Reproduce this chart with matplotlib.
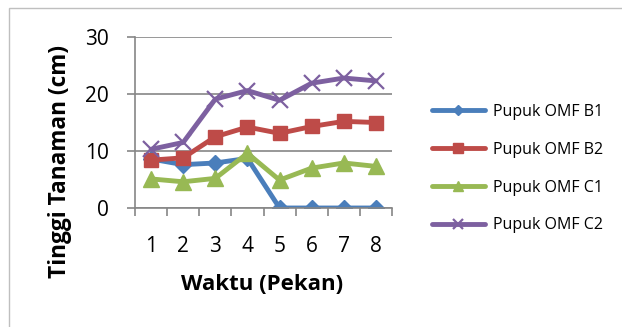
import matplotlib
matplotlib.use("Agg")
import matplotlib.pyplot as plt
from matplotlib.patches import Rectangle

plt.rcParams['font.family'] = ['Open Sans', 'DejaVu Sans']

weeks = [1, 2, 3, 4, 5, 6, 7, 8]
series_names = ["Pupuk OMF B1", "Pupuk OMF B2", "Pupuk OMF C1", "Pupuk OMF C2"]
b1 = [8.6, 7.6, 7.9, 8.7, 0, 0, 0, 0]
b2 = [8.4, 8.8, 12.5, 14.2, 13.1, 14.3, 15.2, 15.0]
c1 = [5.1, 4.6, 5.2, 9.6, 4.9, 7.0, 7.9, 7.3]
c2 = [10.3, 11.5, 19.1, 20.6, 18.9, 21.9, 22.8, 22.3]
y_ticks = [0, 10, 20, 30]

colors = ["#4A7EBB", "#BE4B48", "#98B954", "#7D60A0"]
markers = ["D", "s", "^", "x"]
msizes = [8, 10, 11, 11]

fig = plt.figure(figsize=(6.22, 3.27), dpi=100)
fig.patch.set_facecolor("white")
fig.patches.append(Rectangle((9 / 622, -0.1), 1.2, 1 - 8 / 327 + 0.1,
                             transform=fig.transFigure, fill=False,
                             edgecolor="#BFBFBF", linewidth=1.0))

ax = fig.add_axes([135 / 622, 1 - 208 / 327, 257 / 622, 171 / 327])

for vals, name, col, mk, ms in zip([b1, b2, c1, c2], series_names, colors, markers, msizes):
    kw = dict(color=col, linewidth=3.5, marker=mk, markersize=ms, label=name,
              solid_capstyle="round", solid_joinstyle="round")
    if mk == "x":
        kw["markeredgewidth"] = 1.6
    else:
        kw["markeredgecolor"] = col
    ax.plot(weeks, vals, **kw)

ax.set_xlim(0.5, 8.5)
ax.set_ylim(0, 30)
ax.set_yticks(y_ticks)
ax.set_xticks([w + 0.5 for w in [0] + weeks])
ax.set_xticklabels([])
ax.set_xticks(weeks, minor=True)
ax.set_xticklabels([str(w) for w in weeks], minor=True, fontsize=15)
ax.tick_params(axis="x", which="minor", length=0, pad=20)
ax.tick_params(axis="x", which="major", length=6, width=1.2, color="#868686", direction="out")
ax.tick_params(axis="y", length=6, width=1.2, color="#868686", labelsize=15, pad=13)

ax.grid(axis="y", color="#868686", linewidth=1.2)
ax.set_axisbelow(True)
for side in ["top", "right"]:
    ax.spines[side].set_visible(False)
for side in ["left", "bottom"]:
    ax.spines[side].set_color("#868686")
    ax.spines[side].set_linewidth(1.2)

# Axis titles placed in figure coordinates
fig.text(60 / 622, 1 - 162 / 327, "Tinggi Tanaman (cm)", rotation=90,
         fontsize=16.3, fontweight="bold", ha="center", va="center")
fig.text(262 / 622, 1 - 284 / 327, "Waktu (Pekan)",
         fontsize=16, fontweight="bold", ha="center", va="center")

leg = ax.legend(loc="center left", bbox_to_anchor=(1.1, 0.23), frameon=False,
                fontsize=11.5, handlelength=3.3, labelspacing=1.36, markerscale=0.7,
                handletextpad=0.5)

fig.savefig("out.png", dpi=100, facecolor="white")
